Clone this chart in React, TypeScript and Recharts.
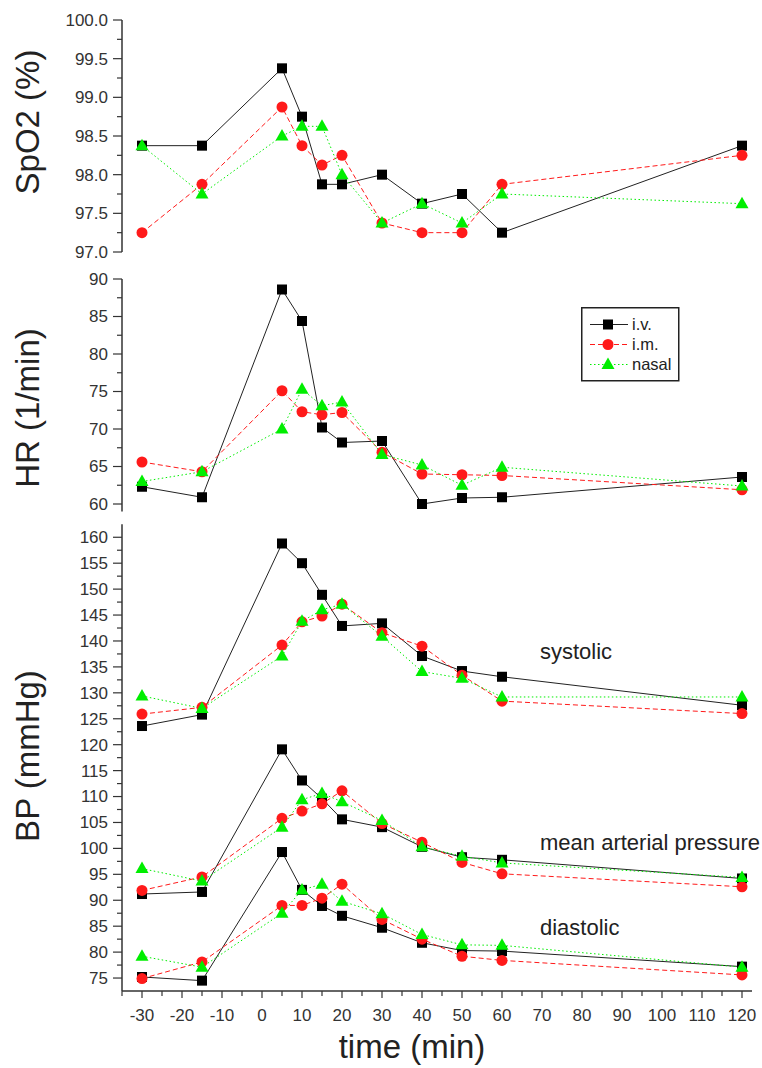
import { LineChart, Line, XAxis, YAxis } from 'recharts';

const FONT = '"Liberation Sans", Arial, Helvetica, sans-serif';

// sampling times (min)
const times = [-30, -15, 5, 10, 15, 20, 30, 40, 50, 60, 120];

const spo2Iv = [98.375, 98.375, 99.375, 98.75, 97.875, 97.875, 98.0, 97.625, 97.75, 97.25, 98.375];
const spo2Im = [97.25, 97.875, 98.875, 98.375, 98.125, 98.25, 97.375, 97.25, 97.25, 97.875, 98.25];
const spo2Nasal = [98.375, 97.75, 98.5, 98.625, 98.625, 98.0, 97.375, 97.625, 97.375, 97.75, 97.625];

const hrIv = [62.3, 60.9, 88.6, 84.4, 70.2, 68.2, 68.4, 60.0, 60.8, 60.9, 63.6];
const hrIm = [65.6, 64.3, 75.1, 72.3, 71.9, 72.2, 66.9, 64.0, 63.9, 63.8, 61.9];
const hrNasal = [63.0, 64.3, 70.0, 75.3, 73.1, 73.6, 66.6, 65.2, 62.5, 64.9, 62.4];

const sysIv = [123.6, 125.8, 158.8, 155.0, 148.9, 142.9, 143.4, 137.1, 134.2, 133.1, 127.6];
const sysIm = [125.9, 127.2, 139.2, 143.7, 144.8, 147.1, 141.6, 139.0, 133.4, 128.4, 126.0];
const sysNasal = [129.4, 127.0, 137.1, 143.8, 146.0, 147.1, 140.9, 134.1, 132.8, 129.2, 129.2];

const mapIv = [91.2, 91.6, 119.1, 113.1, 109.6, 105.6, 104.1, 100.3, 98.3, 97.8, 94.2];
const mapIm = [91.9, 94.5, 105.8, 107.2, 108.6, 111.1, 104.8, 101.2, 97.3, 95.1, 92.6];
const mapNasal = [96.1, 93.7, 104.1, 109.4, 110.6, 109.0, 105.4, 100.3, 98.5, 97.2, 94.4];

const diaIv = [75.2, 74.5, 99.3, 92.0, 88.9, 87.0, 84.7, 81.8, 80.3, 80.2, 77.2];
const diaIm = [74.9, 78.1, 89.0, 89.0, 90.4, 93.1, 86.3, 82.5, 79.2, 78.4, 75.6];
const diaNasal = [79.2, 77.1, 87.5, 92.0, 93.1, 89.8, 87.4, 83.4, 81.4, 81.3, 77.1];

// axis ticks (majors get labels, the rest are minor ticks)
const spo2Ticks = [97, 97.25, 97.5, 97.75, 98, 98.25, 98.5, 98.75, 99, 99.25, 99.5, 99.75, 100];
const hrTicks = [60, 62.5, 65, 67.5, 70, 72.5, 75, 77.5, 80, 82.5, 85, 87.5, 90];
const bpTicks = [
  75, 77.5, 80, 82.5, 85, 87.5, 90, 92.5, 95, 97.5, 100, 102.5, 105, 107.5, 110, 112.5, 115, 117.5,
  120, 122.5, 125, 127.5, 130, 132.5, 135, 137.5, 140, 142.5, 145, 147.5, 150, 152.5, 155, 157.5, 160,
];
const timeTicks = [
  -35, -30, -25, -20, -15, -10, -5, 0, 5, 10, 15, 20, 25, 30, 35, 40, 45, 50, 55, 60,
  65, 70, 75, 80, 85, 90, 95, 100, 105, 110, 115, 120,
];

const spo2Data = times.map((t, i) => ({ t, iv: spo2Iv[i], im: spo2Im[i], nasal: spo2Nasal[i] }));
const hrData = times.map((t, i) => ({ t, iv: hrIv[i], im: hrIm[i], nasal: hrNasal[i] }));
const bpData = times.map((t, i) => ({
  t,
  sysIv: sysIv[i], sysIm: sysIm[i], sysNasal: sysNasal[i],
  mapIv: mapIv[i], mapIm: mapIm[i], mapNasal: mapNasal[i],
  diaIv: diaIv[i], diaIm: diaIm[i], diaNasal: diaNasal[i],
}));

const X_DOMAIN: [number, number] = [-35, 122.5];
const AXIS = '#333';
const BLACK = '#000';
const RED = '#ff1a1a';
const GREEN = '#00ee00';

const squareDot = (p: any) => {
  if (p.cx == null || p.cy == null) return <g key={`s${p.index}`} />;
  return <rect key={`s${p.index}`} x={p.cx - 5} y={p.cy - 5} width={10} height={10} fill={BLACK} />;
};
const circleDot = (p: any) => {
  if (p.cx == null || p.cy == null) return <g key={`c${p.index}`} />;
  return <circle key={`c${p.index}`} cx={p.cx} cy={p.cy} r={5.5} fill={RED} />;
};
const triangleDot = (p: any) => {
  if (p.cx == null || p.cy == null) return <g key={`t${p.index}`} />;
  const { cx, cy } = p;
  return (
    <polygon
      key={`t${p.index}`}
      points={`${cx},${cy - 7} ${cx - 6.5},${cy + 4.5} ${cx + 6.5},${cy + 4.5}`}
      fill={GREEN}
    />
  );
};

const routes = [
  { suffix: 'Iv', key: 'iv', label: 'i.v.', stroke: '#222', dash: undefined as string | undefined, dot: squareDot },
  { suffix: 'Im', key: 'im', label: 'i.m.', stroke: RED, dash: '5 3', dot: circleDot },
  { suffix: 'Nasal', key: 'nasal', label: 'nasal', stroke: GREEN, dash: '1.5 2.5', dot: triangleDot },
];

const makeYTick = (majorStep: number, decimals: number) => (props: any) => {
  const { x, y, payload } = props;
  const v = payload.value as number;
  const r = v / majorStep;
  const major = Math.abs(r - Math.round(r)) < 1e-6;
  return (
    <g>
      <line x1={x - (major ? 9 : 5)} x2={x} y1={y} y2={y} stroke={AXIS} strokeWidth={1.2} />
      {major && (
        <text x={x - 14} y={y} dy="0.35em" textAnchor="end" fontSize={17} fill="#333" fontFamily={FONT}>
          {v.toFixed(decimals)}
        </text>
      )}
    </g>
  );
};

const xTick = (props: any) => {
  const { x, y, payload } = props;
  const v = payload.value as number;
  const major = v % 10 === 0;
  return (
    <g>
      <line x1={x} x2={x} y1={y} y2={y + (major ? 7 : 5)} stroke={AXIS} strokeWidth={1.2} />
      {major && (
        <text x={x} y={y + 24} dy="0.35em" textAnchor="middle" fontSize={17} fill="#333" fontFamily={FONT}>
          {v}
        </text>
      )}
    </g>
  );
};

const lineProps = (r: (typeof routes)[number]) => ({
  type: 'linear' as const,
  stroke: r.stroke,
  strokeWidth: 1,
  strokeDasharray: r.dash,
  dot: r.dot,
  activeDot: false as const,
  isAnimationActive: false,
});

function Panel({
  top, height, margin, data, domain, ticks, tick, children, showX,
}: any) {
  return (
    <div style={{ position: 'absolute', left: 0, top, width: 762, height }}>
      <LineChart width={762} height={height} data={data} margin={margin}>
        <XAxis
          type="number"
          dataKey="t"
          domain={X_DOMAIN}
          allowDataOverflow
          ticks={timeTicks}
          interval={0}
          hide={!showX}
          height={40}
          tickSize={0}
          tickMargin={0}
          tick={xTick}
          tickLine={false}
          axisLine={{ stroke: AXIS, strokeWidth: 1.5 }}
        />
        <YAxis
          type="number"
          domain={domain}
          allowDataOverflow
          ticks={ticks}
          interval={0}
          width={122}
          tickSize={0}
          tickMargin={0}
          tick={tick}
          tickLine={false}
          axisLine={{ stroke: AXIS, strokeWidth: 1.5 }}
        />
        {children}
      </LineChart>
    </div>
  );
}

export default function App() {
  return (
    <div style={{ position: 'absolute', left: 0, top: 0, width: 762, height: 1068, background: '#fff', fontFamily: FONT }}>
      <Panel
        top={0}
        height={262}
        margin={{ top: 20, right: 10, bottom: 10, left: 0 }}
        data={spo2Data}
        domain={[97, 100]}
        ticks={spo2Ticks}
        tick={makeYTick(0.5, 1)}
      >
        {routes.map((r) => (
          <Line key={r.key} dataKey={r.key} {...lineProps(r)} />
        ))}
      </Panel>
      <Panel
        top={262}
        height={262}
        margin={{ top: 17, right: 10, bottom: 12.5, left: 0 }}
        data={hrData}
        domain={[59, 90]}
        ticks={hrTicks}
        tick={makeYTick(5, 0)}
      >
        {routes.map((r) => (
          <Line key={r.key} dataKey={r.key} {...lineProps(r)} />
        ))}
      </Panel>
      <Panel
        top={520}
        height={548}
        margin={{ top: 4.3, right: 10, bottom: 37, left: 0 }}
        data={bpData}
        domain={[72.5, 162.5]}
        ticks={bpTicks}
        tick={makeYTick(5, 0)}
        showX
      >
        {['sys', 'map', 'dia'].flatMap((g) =>
          routes.map((r) => <Line key={g + r.suffix} dataKey={g + r.suffix} {...lineProps(r)} />)
        )}
      </Panel>

      <svg
        width={762}
        height={1068}
        style={{ position: 'absolute', left: 0, top: 0, pointerEvents: 'none' }}
        fontFamily={FONT}
      >
        <g fill="#222" fontSize={33} textAnchor="middle">
          <text transform="translate(39,122) rotate(-90)">SpO2 (%)</text>
          <text transform="translate(39,408) rotate(-90)">HR (1/min)</text>
          <text transform="translate(39,756) rotate(-90)">BP (mmHg)</text>
          <text x={412} y={1058}>time (min)</text>
        </g>
        <g fill="#222" fontSize={22}>
          <text x={540} y={659}>systolic</text>
          <text x={540} y={850}>mean arterial pressure</text>
          <text x={540} y={935}>diastolic</text>
        </g>
        <g transform="translate(581,307)">
          <rect x={0.75} y={0.75} width={97} height={73} fill="#fff" stroke="#222" strokeWidth={1.5} />
          {routes.map((r, i) => {
            const cy = 17.5 + 20 * i;
            return (
              <g key={r.key}>
                <line x1={9} x2={47} y1={cy} y2={cy} stroke={r.stroke} strokeWidth={1} strokeDasharray={r.dash} />
                {r.dot({ cx: 27, cy, index: `leg${i}` })}
                <text x={51} y={cy} dy="0.35em" fontSize={16.5} fill="#222">
                  {r.label}
                </text>
              </g>
            );
          })}
        </g>
      </svg>
    </div>
  );
}
